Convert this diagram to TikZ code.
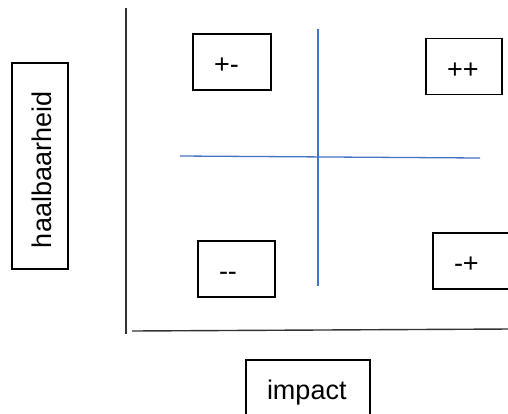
\documentclass[tikz,border=0pt]{standalone}
\usepackage{fontspec}
\setmainfont{Liberation Sans}
\usepackage{tikz}
\usetikzlibrary{positioning}
\definecolor{splitblue}{RGB}{68,114,196}
\tikzstyle{quad} = [rectangle, draw=black, line width=1.4pt, minimum height=56pt, inner xsep=21pt, inner ysep=0pt, text height=23pt, text depth=0pt, align=left, font=\fontsize{27}{32}\selectfont]
\tikzstyle{axis} = [line width=1.4pt, draw=black!80]
\tikzstyle{split} = [line width=1.3pt, draw=splitblue]
\begin{document}
\begin{tikzpicture}[x=1pt,y=-1pt]
                \useasboundingbox (0,0) rectangle (508,413);
                \node (pm) [quad, text width=36pt] at (232,62) {+-};
                \node (pp) [quad, text width=34pt] at (464,66.5) {++};
                \node (mm) [quad, text width=35pt] at (236.5,269) {-{}-};
                \node (mp) [quad, text width=35pt] at (471.5,261) {-+};
                \node (impact) [quad, text width=82pt] at (308,388) {impact};
                \node (haal) [quad, rotate=90, text width=164pt] at (40,166) {haalbaarheid};
                \coordinate (ytop) at (126,8);
                \coordinate (ybot) at (126,334);
                \coordinate (xleft) at (132,331);
                \coordinate (xright) at (510,329);
                \coordinate (vtop) at (318,29);
                \coordinate (vbot) at (318,286);
                \coordinate (hleft) at (180,156);
                \coordinate (hright) at (480,158);
                \draw [axis] (ytop) -- (ybot);
                \draw [axis] (xleft) -- (xright);
                \draw [split] (vtop) -- (vbot);
                \draw [split] (hleft) -- (hright);
            \end{tikzpicture}
\end{document}
